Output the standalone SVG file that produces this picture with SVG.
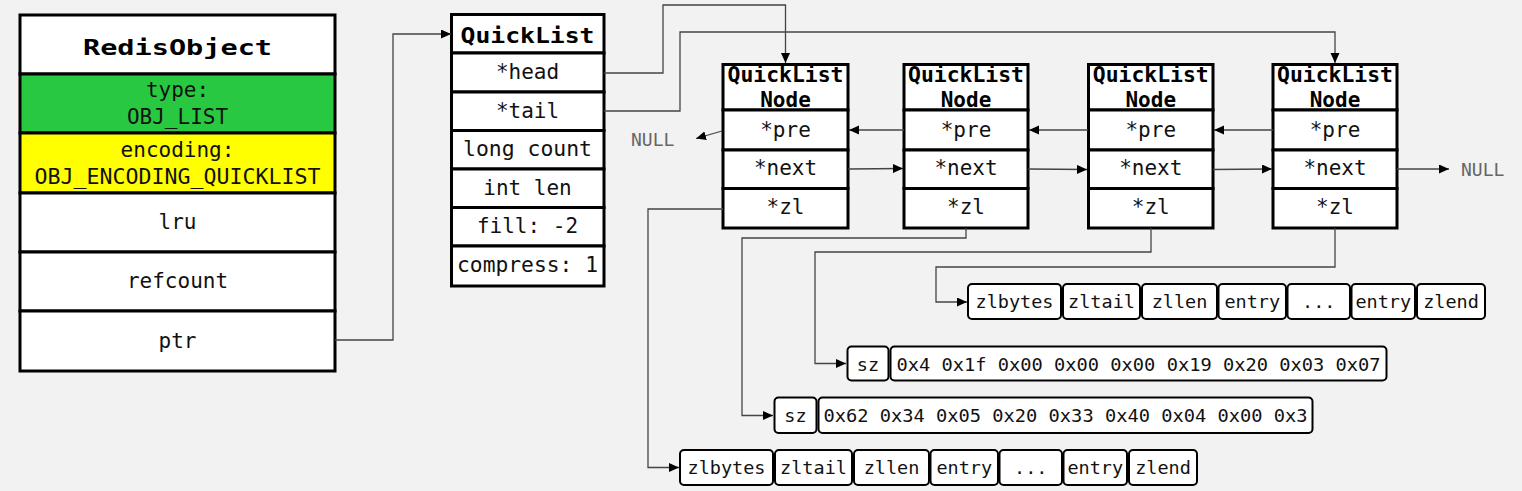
<svg xmlns="http://www.w3.org/2000/svg" width="1522" height="491" viewBox="0 0 1522 491">
<style>
.bg{fill:#f2f2f2}
.box{fill:#fff;stroke:#000;stroke-width:3}
.cell{fill:#fff;stroke:#000;stroke-width:2}
.t{font-family:"DejaVu Sans Mono","Liberation Mono",monospace;font-size:21px;fill:#111;text-anchor:middle}
.s{font-family:"DejaVu Sans Mono","Liberation Mono",monospace;font-size:18.5px;fill:#111;text-anchor:middle}
.b{font-family:"DejaVu Sans Mono","Liberation Mono",monospace;font-weight:bold;font-size:21px;fill:#000;text-anchor:middle}
.null{font-family:"DejaVu Sans Mono","Liberation Mono",monospace;font-size:18px;fill:#666;text-anchor:start}
.c{fill:none;stroke:#444;stroke-width:1.3}
</style>
<defs>
<marker id="ah" markerUnits="userSpaceOnUse" markerWidth="12" markerHeight="10" refX="10" refY="4.5" orient="auto">
<path d="M0,0 L10,4.5 L0,9 z" fill="#000"/>
</marker>
</defs>
<rect class="bg" x="0" y="0" width="1522" height="491"/>

<g id="redisobject">
<rect class="box" x="20" y="15" width="315" height="59"/>
<rect x="20" y="74" width="315" height="59" fill="#28c940" stroke="#000" stroke-width="3"/>
<rect x="20" y="133" width="315" height="60" fill="#ffff00" stroke="#000" stroke-width="3"/>
<rect class="box" x="20" y="193" width="315" height="59"/>
<rect class="box" x="20" y="252" width="315" height="59"/>
<rect class="box" x="20" y="311" width="315" height="60"/>
<text class="b" x="177.5" y="55" font-size="28" textLength="189" lengthAdjust="spacingAndGlyphs">RedisObject</text>
<text class="t" x="177.5" y="97" font-size="20">type:</text>
<text class="t" x="177.5" y="124" font-size="20">OBJ_LIST</text>
<text class="t" x="177.5" y="157" font-size="20">encoding:</text>
<text class="t" x="177.5" y="184" font-size="20" textLength="286" lengthAdjust="spacingAndGlyphs">OBJ_ENCODING_QUICKLIST</text>
<text class="t" x="177.5" y="229">lru</text>
<text class="t" x="177.5" y="288">refcount</text>
<text class="t" x="177.5" y="348">ptr</text>
</g>

<g id="quicklist">
<rect class="box" x="451.5" y="14.5" width="152.5" height="38.5"/>
<rect class="box" x="451.5" y="53" width="152.5" height="39"/>
<rect class="box" x="451.5" y="92" width="152.5" height="38.5"/>
<rect class="box" x="451.5" y="130.5" width="152.5" height="38.5"/>
<rect class="box" x="451.5" y="169" width="152.5" height="38.5"/>
<rect class="box" x="451.5" y="207.5" width="152.5" height="38.5"/>
<rect class="box" x="451.5" y="246" width="152.5" height="40"/>
<text class="b" x="527.5" y="42.5" font-size="24.5" textLength="134" lengthAdjust="spacingAndGlyphs">QuickList</text>
<text class="t" x="527.5" y="79">*head</text>
<text class="t" x="527.5" y="117.5">*tail</text>
<text class="t" x="527.5" y="156" textLength="129" lengthAdjust="spacingAndGlyphs">long count</text>
<text class="t" x="527.5" y="194.5">int len</text>
<text class="t" x="527.5" y="233">fill: -2</text>
<text class="t" x="527.5" y="272" textLength="141" lengthAdjust="spacingAndGlyphs">compress: 1</text>
</g>

<g id="node1">
<rect class="box" x="723" y="64.5" width="125" height="45.5"/>
<rect class="box" x="723" y="110" width="125" height="40"/>
<rect class="box" x="723" y="150" width="125" height="38.5"/>
<rect class="box" x="723" y="188.5" width="125" height="39.5"/>
<text class="b" x="785.5" y="82" textLength="116" lengthAdjust="spacingAndGlyphs">QuickList</text>
<text class="b" x="785.5" y="107">Node</text>
<text class="t" x="785.5" y="137">*pre</text>
<text class="t" x="785.5" y="175">*next</text>
<text class="t" x="785.5" y="213.5">*zl</text>
</g>

<g id="node2">
<rect class="box" x="904" y="64.5" width="124" height="45.5"/>
<rect class="box" x="904" y="110" width="124" height="40"/>
<rect class="box" x="904" y="150" width="124" height="38.5"/>
<rect class="box" x="904" y="188.5" width="124" height="39.5"/>
<text class="b" x="966" y="82" textLength="116" lengthAdjust="spacingAndGlyphs">QuickList</text>
<text class="b" x="966" y="107">Node</text>
<text class="t" x="966" y="137">*pre</text>
<text class="t" x="966" y="175">*next</text>
<text class="t" x="966" y="213.5">*zl</text>
</g>

<g id="node3">
<rect class="box" x="1088.5" y="64.5" width="124.5" height="45.5"/>
<rect class="box" x="1088.5" y="110" width="124.5" height="40"/>
<rect class="box" x="1088.5" y="150" width="124.5" height="38.5"/>
<rect class="box" x="1088.5" y="188.5" width="124.5" height="39.5"/>
<text class="b" x="1150.75" y="82" textLength="116" lengthAdjust="spacingAndGlyphs">QuickList</text>
<text class="b" x="1150.75" y="107">Node</text>
<text class="t" x="1150.75" y="137">*pre</text>
<text class="t" x="1150.75" y="175">*next</text>
<text class="t" x="1150.75" y="213.5">*zl</text>
</g>

<g id="node4">
<rect class="box" x="1273" y="64.5" width="124" height="45.5"/>
<rect class="box" x="1273" y="110" width="124" height="40"/>
<rect class="box" x="1273" y="150" width="124" height="38.5"/>
<rect class="box" x="1273" y="188.5" width="124" height="39.5"/>
<text class="b" x="1335" y="82" textLength="116" lengthAdjust="spacingAndGlyphs">QuickList</text>
<text class="b" x="1335" y="107">Node</text>
<text class="t" x="1335" y="137">*pre</text>
<text class="t" x="1335" y="175">*next</text>
<text class="t" x="1335" y="213.5">*zl</text>
</g>

<g id="null-left"><text class="null" x="631" y="146">NULL</text></g>
<g id="null-right"><text class="null" x="1461" y="176">NULL</text></g>

<g id="ziplist-a">
<rect class="cell" x="968" y="284" width="93" height="35" rx="4"/>
<rect class="cell" x="1063" y="284" width="77" height="35" rx="4"/>
<rect class="cell" x="1142" y="284" width="75" height="35" rx="4"/>
<rect class="cell" x="1218.5" y="284" width="67.5" height="35" rx="4"/>
<rect class="cell" x="1287.5" y="284" width="62.5" height="35" rx="4"/>
<rect class="cell" x="1351.5" y="284" width="63.5" height="35" rx="4"/>
<rect class="cell" x="1417" y="284" width="68" height="35" rx="4"/>
<text class="s" x="1014.5" y="307.5" font-size="19">zlbytes</text>
<text class="s" x="1101.5" y="307.5" font-size="19">zltail</text>
<text class="s" x="1179.5" y="307.5" font-size="19">zllen</text>
<text class="s" x="1252.25" y="307.5" font-size="19">entry</text>
<text class="s" x="1318.75" y="307.5" font-size="19">...</text>
<text class="s" x="1383.25" y="307.5" font-size="19">entry</text>
<text class="s" x="1451" y="307.5" font-size="19">zlend</text>
</g>

<g id="lzf-b">
<rect class="cell" x="847.5" y="346.5" width="41" height="34" rx="4"/>
<rect class="cell" x="890.5" y="346.5" width="496" height="34" rx="4"/>
<text class="s" x="868" y="370.5" font-size="19">sz</text>
<text class="s" x="1138.5" y="370.5" textLength="484" lengthAdjust="spacingAndGlyphs">0x4 0x1f 0x00 0x00 0x00 0x19 0x20 0x03 0x07</text>
</g>

<g id="lzf-c">
<rect class="cell" x="774.5" y="397.5" width="42" height="35.5" rx="4"/>
<rect class="cell" x="818.5" y="397.5" width="494" height="35.5" rx="4"/>
<text class="s" x="795.5" y="421.5" font-size="19">sz</text>
<text class="s" x="1065.5" y="421.5" textLength="484" lengthAdjust="spacingAndGlyphs">0x62 0x34 0x05 0x20 0x33 0x40 0x04 0x00 0x3</text>
</g>

<g id="ziplist-d">
<rect class="cell" x="680" y="450" width="93" height="35" rx="4"/>
<rect class="cell" x="775" y="450" width="77" height="35" rx="4"/>
<rect class="cell" x="854" y="450" width="75" height="35" rx="4"/>
<rect class="cell" x="930.5" y="450" width="67.5" height="35" rx="4"/>
<rect class="cell" x="999.5" y="450" width="62.5" height="35" rx="4"/>
<rect class="cell" x="1063.5" y="450" width="63.5" height="35" rx="4"/>
<rect class="cell" x="1129" y="450" width="68" height="35" rx="4"/>
<text class="s" x="726.5" y="473.5" font-size="19">zlbytes</text>
<text class="s" x="813.5" y="473.5" font-size="19">zltail</text>
<text class="s" x="891.5" y="473.5" font-size="19">zllen</text>
<text class="s" x="964.25" y="473.5" font-size="19">entry</text>
<text class="s" x="1030.75" y="473.5" font-size="19">...</text>
<text class="s" x="1095.25" y="473.5" font-size="19">entry</text>
<text class="s" x="1163" y="473.5" font-size="19">zlend</text>
</g>

<g id="connectors">
<polyline class="c" points="335,340 393,340 393,34 451,34" marker-end="url(#ah)"/>
<polyline class="c" points="604,73 663,73 663,5 785.5,5 785.5,63" marker-end="url(#ah)"/>
<polyline class="c" points="604,111 680,111 680,32 1335,32 1335,63" marker-end="url(#ah)"/>
<line class="c" x1="722" y1="131" x2="696" y2="138.5" marker-end="url(#ah)"/>
<line class="c" x1="904" y1="130" x2="849" y2="130" marker-end="url(#ah)"/>
<line class="c" x1="1088" y1="130" x2="1029" y2="130" marker-end="url(#ah)"/>
<line class="c" x1="1273" y1="130" x2="1214" y2="130" marker-end="url(#ah)"/>
<line class="c" x1="848" y1="169" x2="903" y2="168.5" marker-end="url(#ah)"/>
<line class="c" x1="1028" y1="169" x2="1087" y2="169.5" marker-end="url(#ah)"/>
<line class="c" x1="1213" y1="169.5" x2="1272" y2="169" marker-end="url(#ah)"/>
<line class="c" x1="1397" y1="169" x2="1449" y2="169" marker-end="url(#ah)"/>
<polyline class="c" points="723,209 648,209 648,467.5 679,467.5" marker-end="url(#ah)"/>
<polyline class="c" points="966,228 966,238 742,238 742,415.5 773,415.5" marker-end="url(#ah)"/>
<polyline class="c" points="1151,228 1151,252 815,252 815,363.5 846,363.5" marker-end="url(#ah)"/>
<polyline class="c" points="1335,228 1335,267 936,267 936,302 967,302" marker-end="url(#ah)"/>
</g>
</svg>
